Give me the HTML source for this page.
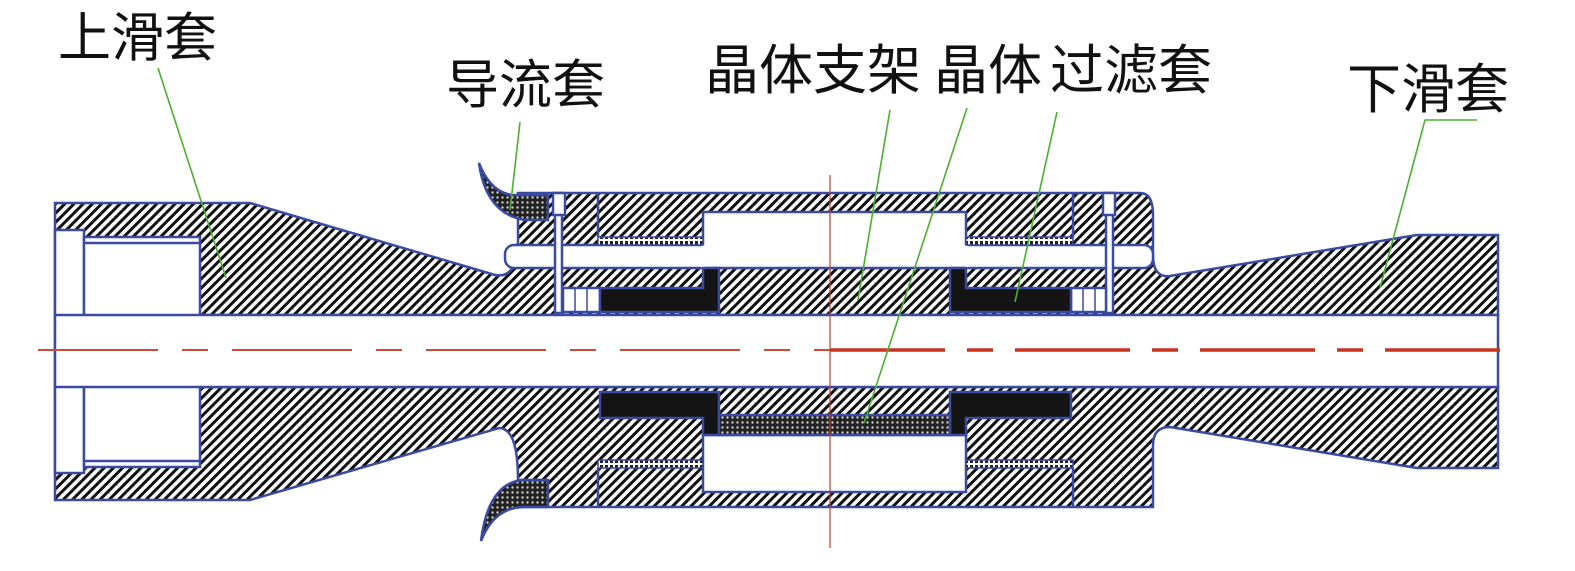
<!DOCTYPE html>
<html><head><meta charset="utf-8"><style>
html,body{margin:0;padding:0;background:#fff;}
svg{display:block;}
text{font-family:"Liberation Sans","Noto Sans CJK SC",sans-serif;fill:#111;}
</style></head><body>
<svg width="1575" height="571" viewBox="0 0 1575 571" xmlns="http://www.w3.org/2000/svg">
<defs>
<pattern id="h" width="6.5" height="6.5" patternUnits="userSpaceOnUse" patternTransform="rotate(45)">
<rect width="6.5" height="6.5" fill="#fff"/><rect x="0" y="0" width="3" height="6.5" fill="#111"/>
</pattern>
<pattern id="x" width="5" height="5" patternUnits="userSpaceOnUse">
<rect width="5" height="5" fill="#222"/><circle cx="2.5" cy="2.5" r="1.2" fill="#ccc"/>
</pattern>
<pattern id="d" width="5" height="8" patternUnits="userSpaceOnUse">
<rect width="5" height="8" fill="#fff"/><rect x="0" y="1" width="3" height="6" fill="#222"/>
</pattern>
</defs>
<g stroke="#3a4aa0" stroke-width="2.5">
<path fill="url(#h)" d="M55,203 H250 L495,275 Q512,278 516,258 V245 H518 V193 H1140 Q1153,193 1153,215 V255 Q1153,278 1170,276 L1417,235 H1498 V315 H55 Z"/>
<path fill="url(#h)" d="M55,387 H1498 V468 H1417 L1170,427 Q1153,427 1153,445 V507 H518 V480 Q518,428 499,428 L250,500 H55 Z"/>
<rect x="55" y="230" width="29" height="243" fill="#fff"/>
<rect x="84" y="237" width="116" height="230" fill="#fff"/>
<line x1="84" y1="243" x2="200" y2="243"/><line x1="84" y1="461" x2="200" y2="461"/>
<rect x="55" y="315" width="1443" height="72" fill="#fff"/>
<rect x="505" y="245" width="648" height="23" rx="9" fill="#fff"/>
<rect x="703" y="212" width="263" height="56" fill="#fff"/>
<line x1="703" y1="245" x2="703" y2="268" stroke="#fff" stroke-width="3"/>
<line x1="966" y1="245" x2="966" y2="268" stroke="#fff" stroke-width="3"/>
<rect x="555" y="193" width="7" height="120" fill="#fff"/>
<rect x="1106" y="193" width="7" height="120" fill="#fff"/>
<rect x="553" y="193" width="12" height="22" fill="#fff"/>
<rect x="1103" y="193" width="12" height="22" fill="#fff"/>
<rect x="563" y="288" width="37" height="24" fill="#fff"/>
<line x1="575" y1="288" x2="575" y2="312" stroke-width="1.5"/><line x1="587" y1="288" x2="587" y2="312" stroke-width="1.5"/>
<rect x="1071" y="288" width="35" height="24" fill="#fff"/>
<line x1="1083" y1="288" x2="1083" y2="312" stroke-width="1.5"/><line x1="1095" y1="288" x2="1095" y2="312" stroke-width="1.5"/>
<rect x="703" y="435" width="263" height="57" fill="#fff"/>
<rect x="598" y="237" width="105" height="8" fill="url(#d)" stroke-width="1.5"/>
<rect x="966" y="237" width="107" height="8" fill="url(#d)" stroke-width="1.5"/>
<rect x="598" y="460" width="105" height="8" fill="url(#d)" stroke-width="1.5"/>
<rect x="966" y="460" width="107" height="8" fill="url(#d)" stroke-width="1.5"/>
<line x1="598" y1="193" x2="598" y2="237"/><line x1="1073" y1="193" x2="1073" y2="237"/>
<line x1="598" y1="468" x2="598" y2="507"/><line x1="1073" y1="468" x2="1073" y2="507"/>
<path fill="#141414" d="M600,288 H703 V268 H719 V312 H600 Z"/>
<path fill="#141414" d="M950,268 H966 V288 H1071 V312 H950 Z"/>
<path fill="#141414" d="M600,392 H719 V435 H703 V418 H600 Z"/>
<path fill="#141414" d="M950,392 H1071 V418 H966 V435 H950 Z"/>
<rect x="719" y="415" width="231" height="20" fill="url(#x)"/>
<path fill="url(#x)" d="M479,163 Q486,214 525,220 H548 V195 H512 Q490,192 479,163 Z"/>
<path fill="url(#x)" d="M548,480 H522 Q488,484 481,541 Q494,507 525,507 H548 Z"/>
<line x1="518" y1="480" x2="548" y2="480"/>
</g>
<line x1="830" y1="175" x2="830" y2="548" stroke="#d23a2a" stroke-width="1.2"/>
<line x1="38" y1="350" x2="830" y2="350" stroke="#d24a3a" stroke-width="2" stroke-dasharray="120,24,26,24"/>
<line x1="830" y1="350" x2="1522" y2="350" stroke="#c8321f" stroke-width="3.5" stroke-dasharray="115,22,26,22"/>
<g stroke="#4caf30" stroke-width="1.6" fill="none">
<line x1="158" y1="68" x2="226" y2="278"/>
<line x1="520" y1="122" x2="510" y2="210"/>
<line x1="890" y1="110" x2="858" y2="300"/>
<line x1="967" y1="108" x2="864" y2="423"/>
<line x1="1057" y1="112" x2="1015" y2="302"/>
<polyline points="1477,120 1425,120 1380,288"/>
</g>
<text x="58" y="56" font-size="53">上滑套</text>
<text x="446" y="103" font-size="53">导流套</text>
<text x="705" y="89" font-size="54">晶体支架</text>
<text x="934" y="89" font-size="54">晶体</text>
<text x="1050" y="89" font-size="54">过滤套</text>
<text x="1347" y="108" font-size="54">下滑套</text>
</svg>
</body></html>
